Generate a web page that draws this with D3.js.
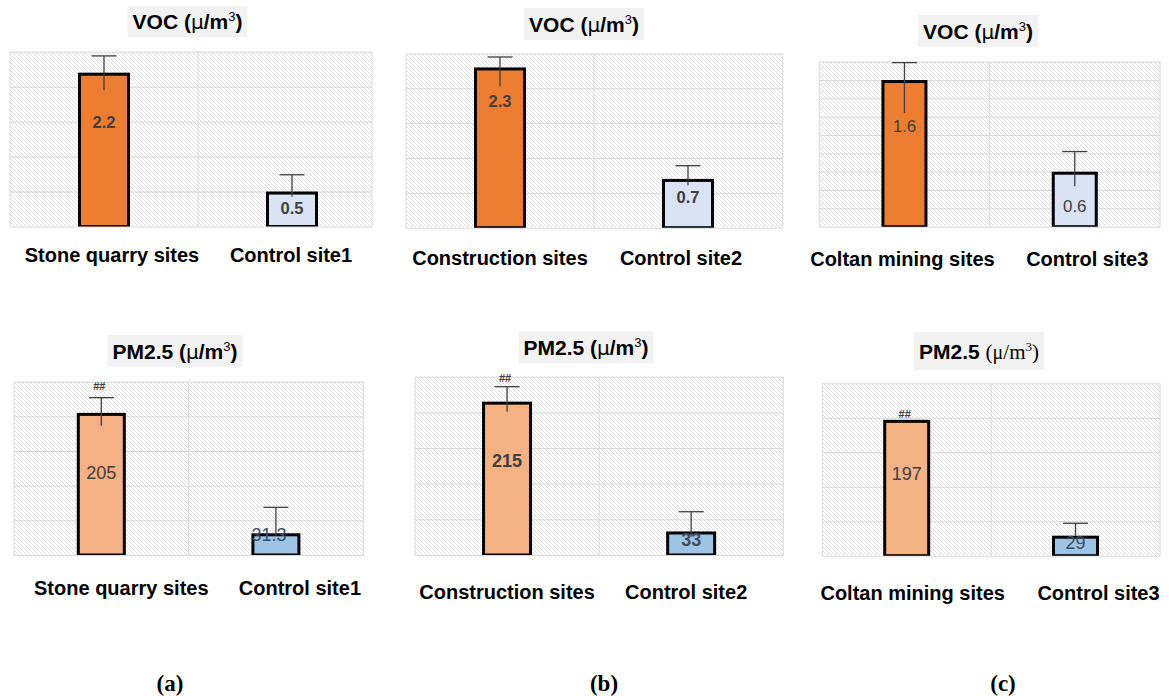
<!DOCTYPE html>
<html><head><meta charset="utf-8">
<script src="https://cdn.jsdelivr.net/npm/d3@7"></script>
<style>body{margin:0;background:#fff}</style>
</head><body><svg id="c" width="1169" height="696"></svg>
<script>
// ---------- DATA ----------
const sites = ["Stone quarry sites", "Construction sites", "Coltan mining sites"];
const controls = ["Control site1", "Control site2", "Control site3"];
const panelTags = ["(a)", "(b)", "(c)"];

const vocValues = [[2.2, 0.5], [2.3, 0.7], [1.6, 0.6]];
const vocErrUp = [[0.24, 0.24], [0.15, 0.19], [0.19, 0.22]];
const vocErrDown = [[0.25, 0.07], [0.27, 0.09], [0.36, 0.16]];
const vocLabels = [["2.2", "0.5"], ["2.3", "0.7"], ["1.6", "0.6"]];
const vocTicks = [[0, 0.5, 1, 1.5, 2, 2.5], [0, 0.5, 1, 1.5, 2, 2.5], [0, 0.2, 0.4, 0.6, 0.8, 1, 1.2, 1.4, 1.6, 1.8]];

const pmValues = [[205, 31.3], [215, 33], [197, 29]];
const pmErrUp = [[22, 37.5], [21, 27.7], [0, 18]];
const pmErrDown = [[18.5, 4], [14, 7], [0, 0]];
const pmLabels = [["205", "31.3"], ["215", "33"], ["197", "29"]];
const pmSig = [["##", ""], ["##", ""], ["##", ""]];
const pmTicks = [[0, 50, 100, 150, 200, 250], [0, 50, 100, 150, 200, 250], [0, 50, 100, 150, 200, 250]];

// ---------- LAYOUT / STYLE ----------
const vocColors = ["#ED7D31", "#DAE3F3"];
const pmColors = ["#F4B183", "#9DC3E6"];
const layout = [
  {left:10, right:372, top:51.7, bottom:226.5, band:188, barW:52, tx:187.5, ty:21.5, th:31, catDx:[8,-1], catDy:28.5, valFrac:[0.68,0.53], valDx:[0,0], valBold:[true,true], valSize:16.5},
  {left:406, right:782.7, top:53.5, bottom:227.7, band:188, barW:52, tx:584, ty:24, th:32, catDx:[0,-7], catDy:30.3, valFrac:[0.79,0.635], valDx:[0,0], valBold:[true,true], valSize:16.5},
  {left:819.3, right:1160, top:61.7, bottom:226.7, band:170.3, barW:46, tx:978, ty:31, th:32, catDx:[-2,12.5], catDy:32.3, valFrac:[0.68,0.376], valDx:[0,0], valBold:[false,false], valSize:17},
  {left:14, right:363.3, top:381.7, bottom:555, band:174.6, barW:49, tx:175, ty:351, th:32, catDx:[20,24], catDy:33.3, valFrac:[0.575,0.92], valDx:[0,-7], valBold:[false,false], valSize:18, sigDy:12},
  {left:415, right:783.3, top:376.7, bottom:555, band:184.1, barW:50, tx:586, ty:347.5, th:32, catDx:[0,-5], catDy:36.7, valFrac:[0.615,0.64], valDx:[0,0], valBold:[true,true], valSize:18, sigDy:9},
  {left:822.3, right:1160, top:383.3, bottom:555.7, band:168.8, barW:47, tx:979, ty:351, th:38, catDx:[6,23], catDy:37.6, valFrac:[0.6,0.65], valDx:[0,0], valBold:[false,false], valSize:18, sigDy:6}
];
const tagPos = [{x:170, y:683}, {x:604, y:683}, {x:1003, y:683}];

const svg = d3.select("#c");
const defs = svg.append("defs");
const pat = defs.append("pattern").attr("id", "hatch").attr("patternUnits", "userSpaceOnUse")
  .attr("width", 4).attr("height", 4);
pat.append("rect").attr("width", 4).attr("height", 4).attr("fill", "#fff");
pat.append("path").attr("d", "M0,0 L4,4 M-1,3 L1,5 M3,-1 L5,1")
  .attr("stroke", "#d6d6d6").attr("stroke-width", 0.8);

const FONT = "'Liberation Sans', Arial, sans-serif";

function drawPanel(i, kind) {
  const col = i % 3;
  const L = layout[i];
  const isVoc = kind === "voc";
  const values = isVoc ? vocValues[col] : pmValues[col];
  const eUp = isVoc ? vocErrUp[col] : pmErrUp[col];
  const eDn = isVoc ? vocErrDown[col] : pmErrDown[col];
  const labels = isVoc ? vocLabels[col] : pmLabels[col];
  const ticks = isVoc ? vocTicks[col] : pmTicks[col];
  const sig = isVoc ? ["", ""] : pmSig[col];
  const colors = isVoc ? vocColors : pmColors;
  const cats = [sites[col], controls[col]];

  const x = d3.scaleBand().domain(cats).range([L.left, L.left + 2 * L.band]).padding(0);
  const y = d3.scaleLinear().domain([0, d3.max(ticks)]).range([L.bottom, L.top]);

  const g = svg.append("g");
  const clipId = "clip" + i;
  defs.append("clipPath").attr("id", clipId).append("rect")
    .attr("x", L.left).attr("y", L.top).attr("width", L.right - L.left).attr("height", L.bottom - L.top);

  g.append("rect").attr("x", L.left).attr("y", L.top).attr("width", L.right - L.left)
    .attr("height", L.bottom - L.top).attr("fill", "url(#hatch)");

  const grid = g.append("g").attr("transform", `translate(${L.left},0)`)
    .call(d3.axisLeft(y).tickValues(ticks).tickSize(-(L.right - L.left)).tickFormat(""));
  grid.select(".domain").remove();
  grid.selectAll(".tick line").attr("stroke", "#d9d9d9").attr("stroke-width", 1);

  const vx = [L.left, x(cats[1]), L.right];
  g.selectAll(".vl").data(vx).enter().append("line")
    .attr("x1", d => d).attr("x2", d => d).attr("y1", L.top).attr("y2", L.bottom)
    .attr("stroke", "#d9d9d9").attr("stroke-width", 1);

  const inner = g.append("g").attr("clip-path", `url(#${clipId})`);
  const cx = c => x(c) + x.bandwidth() / 2;
  const sw = 3;
  inner.selectAll(".bar").data(cats).enter().append("rect")
    .attr("x", c => cx(c) - L.barW / 2 + sw / 2)
    .attr("width", L.barW - sw)
    .attr("y", (c, k) => y(values[k]) + sw / 2)
    .attr("height", (c, k) => L.bottom - y(values[k]) - sw / 2)
    .attr("fill", (c, k) => colors[k])
    .attr("stroke", "#000").attr("stroke-width", sw);

  cats.forEach((c, k) => {
    if (eUp[k] === 0 && eDn[k] === 0) return;
    const xc = cx(c);
    const yt = y(values[k] + eUp[k]), yb = y(values[k] - eDn[k]);
    g.append("line").attr("x1", xc).attr("x2", xc).attr("y1", yt).attr("y2", yb)
      .attr("stroke", "#404040").attr("stroke-width", 1.3);
    g.append("line").attr("x1", xc - 12.5).attr("x2", xc + 12.5).attr("y1", yt).attr("y2", yt)
      .attr("stroke", "#404040").attr("stroke-width", 1.3);
  });

  cats.forEach((c, k) => {
    const yv = y(values[k]);
    const yl = L.bottom - (L.bottom - yv) * L.valFrac[k];
    g.append("text").attr("x", cx(c) + L.valDx[k]).attr("y", yl)
      .attr("text-anchor", "middle").attr("dominant-baseline", "central")
      .attr("font-family", FONT).attr("font-size", L.valSize)
      .attr("font-weight", L.valBold[k] ? "bold" : "normal")
      .attr("fill", (!isVoc && k === 1) ? "#3E4D5E" : "#404040")
      .text(labels[k]);
    if (sig[k]) {
      g.append("text").attr("x", cx(c) - 2).attr("y", y(values[k] + eUp[k]) - L.sigDy)
        .attr("text-anchor", "middle").attr("dominant-baseline", "central")
        .attr("font-family", FONT).attr("font-size", 11).attr("font-weight", "bold")
        .attr("fill", "#404040").text(sig[k]);
    }
  });

  cats.forEach((c, k) => {
    g.append("text").attr("x", cx(c) + L.catDx[k]).attr("y", L.bottom + L.catDy)
      .attr("text-anchor", "middle").attr("dominant-baseline", "central")
      .attr("font-family", FONT).attr("font-size", 20).attr("font-weight", "bold")
      .attr("fill", "#000").text(c);
  });

  const tg = g.append("g");
  const box = tg.append("rect").attr("fill", "#f2f2f2");
  const t = tg.append("text").attr("x", L.tx).attr("y", L.ty + 7.5)
    .attr("text-anchor", "middle").attr("font-family", FONT).attr("font-size", 21)
    .attr("font-weight", "bold").attr("fill", "#000");
  const unitFamily = (i === 5) ? "'Liberation Serif', serif" : FONT;
  const unitWeight = (i === 5) ? "normal" : "bold";
  t.append("tspan").text(isVoc ? "VOC " : "PM2.5 ");
  t.append("tspan").attr("font-family", unitFamily).attr("font-weight", unitWeight).text("(");
  t.append("tspan").attr("font-family", (i === 5) ? unitFamily : "'DejaVu Sans', sans-serif")
    .attr("font-weight", "normal").attr("font-size", 20).text("μ");
  t.append("tspan").attr("font-family", unitFamily).attr("font-weight", unitWeight).text("/m");
  t.append("tspan").attr("font-family", unitFamily).attr("font-size", 13).attr("dy", -8)
    .attr("font-weight", "normal").text("3");
  t.append("tspan").attr("font-family", unitFamily).attr("font-weight", unitWeight).attr("dy", 8).text(")");
  const bb = t.node().getBBox();
  box.attr("x", bb.x - 5).attr("width", bb.width + 10)
    .attr("y", L.ty - L.th / 2).attr("height", L.th);
}

for (let c = 0; c < 3; c++) drawPanel(c, "voc");
for (let c = 0; c < 3; c++) drawPanel(c + 3, "pm");

svg.selectAll(".tag").data(panelTags).enter().append("text")
  .attr("x", (d, k) => tagPos[k].x).attr("y", (d, k) => tagPos[k].y)
  .attr("text-anchor", "middle").attr("dominant-baseline", "central")
  .attr("font-family", "'Liberation Serif', serif").attr("font-weight", "bold")
  .attr("font-size", 23).attr("fill", "#000").text(d => d);
</script>
</body></html>
